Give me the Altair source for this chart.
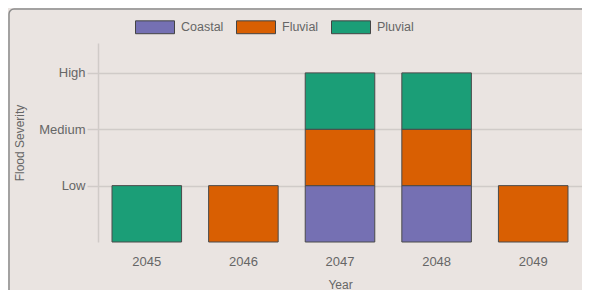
import altair as alt
import pandas as pd

years = ["2045", "2046", "2047", "2048", "2049"]
flood_types = ["Coastal", "Fluvial", "Pluvial"]
type_colors = ["#7570b3", "#d95f02", "#1b9e77"]
severity_levels = ["Low", "Medium", "High"]

event_year = ["2045", "2046", "2047", "2047", "2047", "2048", "2048", "2048", "2049"]
event_type = ["Pluvial", "Fluvial", "Coastal", "Fluvial", "Pluvial", "Coastal", "Fluvial", "Pluvial", "Fluvial"]
event_units = [1, 1, 1, 1, 1, 1, 1, 1, 1]

df = pd.DataFrame({
    "Year": event_year,
    "Type": event_type,
    "Units": event_units,
    "Order": [flood_types.index(t) for t in event_type],
})

W, H = 484, 199
TXT = "#666666"
GRID = "#d0cbc8"
FONT = "Liberation Sans"

label_expr = " : ".join(
    f"datum.value == {i + 1} ? '{s}'" for i, s in enumerate(severity_levels)
) + " : ''"

bars = alt.Chart(df).mark_bar(stroke="#4a4a4a", strokeWidth=1).encode(
    x=alt.X("Year:N", sort=years, title="Year",
            scale=alt.Scale(paddingInner=0.28, paddingOuter=0.145),
            axis=alt.Axis(labelAngle=0, domain=False, ticks=False, tickSize=0, grid=False,
                          labelPadding=13, titlePadding=11, labelFontSize=13,
                          titleFontSize=12, titleFontWeight="normal")),
    y=alt.Y("sum(Units):Q", title="Flood Severity",
            scale=alt.Scale(domain=[0, 3.53], nice=False),
            axis=alt.Axis(values=[1, 2, 3], labelExpr=label_expr, tickSize=11,
                          labelPadding=2, titlePadding=12, labelFontSize=13,
                          titleFontSize=12, titleFontWeight="normal", grid=True)),
    color=alt.Color("Type:N", sort=flood_types,
                    scale=alt.Scale(domain=flood_types, range=type_colors),
                    legend=alt.Legend(title=None, orient="none", legendX=37, legendY=-36,
                                      direction="horizontal",
                                      symbolType="M-1,-0.33H1V0.33H-1Z", symbolSize=1521,
                                      symbolStrokeColor="#444444", symbolStrokeWidth=1,
                                      symbolOpacity=1, labelFontSize=12.5, labelColor=TXT,
                                      labelFont=FONT, labelOffset=6, columnPadding=10,
                                      padding=0)),
    order=alt.Order("Order:Q", sort="ascending"),
)

frame = alt.Chart(alt.Data(values=[{"k": 1}])).mark_rect(
    fillOpacity=0, stroke="#8c8c8c", strokeWidth=1.5, cornerRadius=5
).encode(
    x=alt.value(-89), y=alt.value(-34), x2=alt.value(W + 40), y2=alt.value(H + 90)
)

chart = alt.layer(frame, bars).properties(
    width=W, height=H,
    autosize=alt.AutoSizeParams(type="none"),
    padding={"left": 90, "top": 35, "right": 0, "bottom": 48},
    background="#eae4e1",
).configure_view(stroke=None).configure_axis(
    labelColor=TXT, titleColor=TXT, labelFont=FONT, titleFont=FONT,
    gridColor=GRID, domainColor=GRID, tickColor=GRID, gridWidth=1.5, domainWidth=1.5, tickWidth=1.5,
)

chart.save("out.html", embed_options={"renderer": "svg", "actions": False})
